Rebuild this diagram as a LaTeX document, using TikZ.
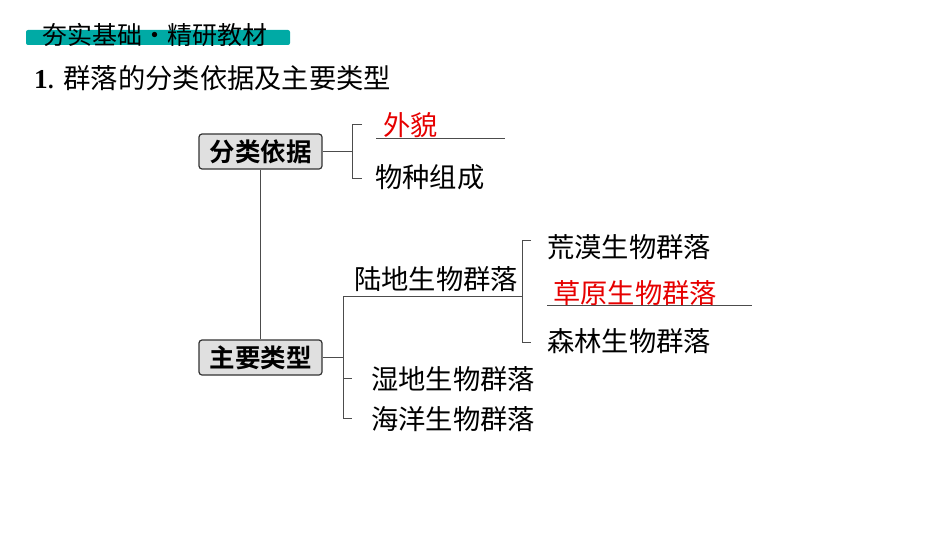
\documentclass[tikz,border=0pt]{standalone}
\usepackage{fontspec}
\setmainfont{Noto Sans CJK SC}
\newfontfamily\cjkb{Noto Sans CJK SC Bold}
\newfontfamily\lat{Liberation Serif}
\definecolor{teal1}{RGB}{0,170,165}
\definecolor{red1}{RGB}{230,0,0}
\begin{document}
\begin{tikzpicture}[x=1pt,y=-1pt,
  lbl/.style={anchor=west,inner sep=0pt,font=\fontsize{27.3}{27}\selectfont},
  box/.style={draw=black!80,fill=black!12,rounded corners=3pt,line width=1.2pt,minimum width=123pt,minimum height=35pt,inner sep=0pt,font=\cjkb\fontsize{25.5}{25}\selectfont},
  ln/.style={draw=black!70,line width=0.8pt}]
\useasboundingbox (0,0) rectangle (950,535);
\fill[teal1,rounded corners=2pt] (26,30) rectangle (290,45);
\node[lbl,font=\fontsize{25}{25}\selectfont] (hd) at (42,35) {夯实基础•精研教材};
\node[lbl] (t) at (34,78) {{\lat\bfseries 1}. 群落的分类依据及主要类型};
\node[box] (a) at (260.5,151.5) {分类依据};
\node[box] (b) at (260.5,357.5) {主要类型};
\draw[ln] (a.south) -- (b.north);
\coordinate (ab) at (352,151.5);
\draw[ln] (a.east) -- (ab);
\draw[ln] (362,124) -- (352,124) -- (352,178) -- (362,178);
\node[lbl,text=red1] (w) at (383,125) {外貌};
\draw[ln] (376,138) -- (505,138);
\node[lbl] (wz) at (375,177) {物种组成};
\coordinate (bb) at (343,357.5);
\draw[ln] (b.east) -- (bb);
\draw[ln] (343,296) -- (343,418) -- (352,418);
\draw[ln] (343,378) -- (352,378);
\node[lbl] (ld) at (354,279) {陆地生物群落};
\draw[ln] (343,296) -- (522,296);
\draw[ln] (531,240) -- (522,240) -- (522,342) -- (531,342);
\node[lbl] (hm) at (547,247) {荒漠生物群落};
\node[lbl,text=red1] (cy) at (553,293) {草原生物群落};
\draw[ln] (547,305) -- (752,305);
\node[lbl] (sl) at (547,341) {森林生物群落};
\node[lbl] (sd) at (371,379) {湿地生物群落};
\node[lbl] (hy) at (371,419) {海洋生物群落};
\end{tikzpicture}
\end{document}
